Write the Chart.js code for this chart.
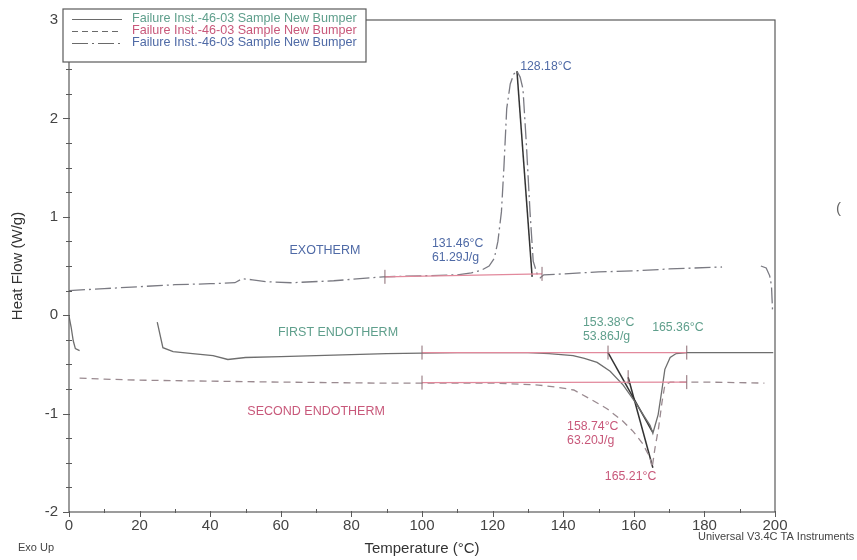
<!DOCTYPE html>
<html>
<head>
<meta charset="utf-8">
<script src="https://cdn.jsdelivr.net/npm/chart.js@4.4.0/dist/chart.umd.min.js"></script>
<style>
  body{margin:0;background:#fff;}
  canvas{display:block;}
</style>
</head>
<body>
<canvas id="dscChart" width="857" height="560"></canvas>
<script>
// first endotherm (solid line) - null splits the start-up blip from the run
const endo1Temp = [0, 0.6, 1.2, 1.8, 3, null, 25, 26.6, 29.5, 35, 40.8, 45, 50, 60, 70, 80, 90, 100, 110, 120, 130, 136, 142.8, 146, 149.6, 153.3, 157, 160.9, 163, 164.6, 165.4, 166.9, 168, 168.8, 170.3, 172, 175, 185, 199.5];
const endo1Flow = [-0.01, -0.12, -0.26, -0.34, -0.36, null, -0.07, -0.33, -0.37, -0.39, -0.41, -0.45, -0.43, -0.42, -0.41, -0.40, -0.39, -0.385, -0.38, -0.38, -0.38, -0.39, -0.41, -0.44, -0.48, -0.57, -0.71, -0.91, -1.03, -1.12, -1.2, -1.01, -0.75, -0.55, -0.43, -0.39, -0.38, -0.38, -0.38];

// second endotherm (dashed line)
const endo2Temp = [3, 10, 20, 40, 60, 87, 100, 120, 133, 138, 143, 147.6, 152.4, 157, 159.8, 162.6, 164.6, 165.2, 166, 167, 168, 168.8, 170.3, 180, 190, 197];
const endo2Flow = [-0.64, -0.65, -0.66, -0.67, -0.68, -0.69, -0.69, -0.69, -0.71, -0.73, -0.76, -0.85, -0.95, -1.08, -1.18, -1.31, -1.45, -1.55, -1.35, -1.15, -0.88, -0.71, -0.68, -0.68, -0.685, -0.69];

// exotherm (dash-dot line)
const exoTemp = [0, 10, 20, 30, 40, 47, 49, 52, 56, 63, 75, 89, 100, 110, 114, 117, 119, 120.5, 121.5, 122.5, 123.2, 124, 125, 126, 126.9, 127.8, 128.6, 129.6, 130.6, 131.5, 132.6, 133.5, 134.5, 140, 150, 160, 170, 185, null, 196, 197.5, 198.5, 199, 199.3];
const exoFlow = [0.25, 0.27, 0.29, 0.31, 0.32, 0.33, 0.37, 0.36, 0.34, 0.33, 0.35, 0.39, 0.40, 0.41, 0.43, 0.46, 0.5, 0.58, 0.75, 1.05, 1.5, 2.1, 2.35, 2.45, 2.48, 2.42, 2.3, 1.72, 1.05, 0.55, 0.42, 0.38, 0.41, 0.42, 0.44, 0.45, 0.47, 0.49, null, 0.50, 0.48, 0.40, 0.30, 0.05];

// integration baselines and onset tangents
const exoBaseTemp = [89.5, 134];
const exoBaseFlow = [0.39, 0.42];
const endo1BaseTemp = [100, 175];
const endo1BaseFlow = [-0.38, -0.38];
const endo2BaseTemp = [100, 175];
const endo2BaseFlow = [-0.685, -0.68];
const exoTangentTemp = [126.9, 131.2];
const exoTangentFlow = [2.48, 0.39];
const endo1TangentTemp = [152.7, 165.2];
const endo1TangentFlow = [-0.38, -1.18];
const endo2TangentTemp = [158.4, 165.4];
const endo2TangentFlow = [-0.63, -1.55];

const legendLabels = ['Failure Inst.-46-03 Sample New Bumper', 'Failure Inst.-46-03 Sample New Bumper', 'Failure Inst.-46-03 Sample New Bumper'];

const tealText = '#5f9f8c';
const redText = '#c8587a';
const blueText = '#4f6aa6';
const baseRed = '#e2899c';

function pts(xs, ys) {
  return xs.map((x, i) => (x === null ? {x: NaN, y: null} : {x: x, y: ys[i]}));
}

function lineSet(xs, ys, color, width, dash) {
  return {
    data: pts(xs, ys),
    borderColor: color,
    borderWidth: width,
    borderDash: dash || [],
    pointRadius: 0,
    fill: false,
    tension: 0,
    spanGaps: false
  };
}

const annotations = [
  {t: 127.8, v: 2.53, text: '128.18°C', color: blueText, align: 'left'},
  {t: 102.8, v: 0.73, text: '131.46°C', color: blueText, align: 'left'},
  {t: 102.8, v: 0.59, text: '61.29J/g', color: blueText, align: 'left'},
  {t: 72.5, v: 0.66, text: 'EXOTHERM', color: blueText, align: 'center', big: true},
  {t: 76.2, v: -0.18, text: 'FIRST ENDOTHERM', color: tealText, align: 'center', big: true},
  {t: 70, v: -0.98, text: 'SECOND ENDOTHERM', color: redText, align: 'center', big: true},
  {t: 145.6, v: -0.08, text: '153.38°C', color: tealText, align: 'left'},
  {t: 145.6, v: -0.22, text: '53.86J/g', color: tealText, align: 'left'},
  {t: 165.2, v: -0.13, text: '165.36°C', color: tealText, align: 'left'},
  {t: 141.1, v: -1.13, text: '158.74°C', color: redText, align: 'left'},
  {t: 141.1, v: -1.27, text: '63.20J/g', color: redText, align: 'left'},
  {t: 151.8, v: -1.64, text: '165.21°C', color: redText, align: 'left'}
];

const dscDecor = {
  id: 'dscDecor',
  afterDatasetsDraw(chart) {
    const ctx = chart.ctx;
    const xs = chart.scales.x, ys = chart.scales.y;
    const a = chart.chartArea;
    ctx.save();

    // frame
    ctx.strokeStyle = '#5a5a5a';
    ctx.lineWidth = 1.2;
    ctx.strokeRect(a.left, a.top, a.right - a.left, a.bottom - a.top);

    // ticks
    ctx.lineWidth = 1;
    ctx.beginPath();
    for (let t = 0; t <= 200; t += 10) {
      const px = Math.round(xs.getPixelForValue(t)) + 0.5;
      if (t % 20 === 0) { ctx.moveTo(px, a.bottom - 1); ctx.lineTo(px, a.bottom + 5); }
      else { ctx.moveTo(px, a.bottom - 3); ctx.lineTo(px, a.bottom + 1); }
    }
    for (let v = -2; v <= 3; v += 0.25) {
      const py = Math.round(ys.getPixelForValue(v)) + 0.5;
      if (Number.isInteger(v)) { ctx.moveTo(a.left - 6, py); ctx.lineTo(a.left + 1, py); }
      else { ctx.moveTo(a.left - 3, py); ctx.lineTo(a.left + 3, py); }
    }
    ctx.stroke();

    // integration limit marks
    ctx.strokeStyle = '#8a6a72';
    const marks = [[exoBaseTemp[0], exoBaseFlow[0]], [exoBaseTemp[1], exoBaseFlow[1]],
      [endo1BaseTemp[0], endo1BaseFlow[0]], [endo1BaseTemp[1], endo1BaseFlow[1]],
      [endo2BaseTemp[0], endo2BaseFlow[0]], [endo2BaseTemp[1], endo2BaseFlow[1]],
      [endo1TangentTemp[0], endo1TangentFlow[0]], [endo2TangentTemp[0], endo2TangentFlow[0]]];
    ctx.beginPath();
    marks.forEach(m => {
      const px = xs.getPixelForValue(m[0]), py = ys.getPixelForValue(m[1]);
      ctx.moveTo(px, py - 7); ctx.lineTo(px, py + 7);
    });
    ctx.stroke();

    // annotation texts
    ctx.textBaseline = 'middle';
    annotations.forEach(n => {
      ctx.font = (n.big ? '12.5px' : '12.3px') + ' "Liberation Sans", Arial, sans-serif';
      ctx.fillStyle = n.color;
      ctx.textAlign = n.align;
      ctx.fillText(n.text, xs.getPixelForValue(n.t), ys.getPixelForValue(n.v));
    });

    // legend box
    ctx.fillStyle = '#fff';
    ctx.fillRect(63, 9, 303, 53);
    ctx.strokeStyle = '#5a5a5a';
    ctx.lineWidth = 1.2;
    ctx.strokeRect(63, 9, 303, 53);
    const rowY = [19, 31, 43];
    const rowDash = [[], [6, 4], [16, 4, 2, 4]];
    const rowCol = [tealText, redText, blueText];
    ctx.font = '12.6px "Liberation Sans", Arial, sans-serif';
    ctx.textAlign = 'left';
    legendLabels.forEach((lab, i) => {
      ctx.strokeStyle = '#6a6a6a';
      ctx.lineWidth = 1;
      ctx.setLineDash(rowDash[i]);
      ctx.beginPath();
      ctx.moveTo(72, rowY[i] + 0.5);
      ctx.lineTo(122, rowY[i] + 0.5);
      ctx.stroke();
      ctx.setLineDash([]);
      ctx.fillStyle = rowCol[i];
      ctx.fillText(lab, 132, rowY[i]);
    });

    // corner notes
    ctx.fillStyle = '#444';
    ctx.font = '11px "Liberation Sans", Arial, sans-serif';
    ctx.fillText('Exo Up', 18, 548);
    ctx.fillText('Universal V3.4C TA Instruments', 698, 537);
    ctx.fillStyle = '#666';
    ctx.font = '15px "Liberation Sans", Arial, sans-serif';
    ctx.fillText('(', 836, 209);
    ctx.restore();
  }
};

const ctx1 = document.getElementById('dscChart');

new Chart(ctx1, {
  type: 'line',
  data: {
    datasets: [
      lineSet(exoBaseTemp, exoBaseFlow, baseRed, 1.2),
      lineSet(endo1BaseTemp, endo1BaseFlow, baseRed, 1.2),
      lineSet(endo2BaseTemp, endo2BaseFlow, baseRed, 1.2),
      lineSet(endo1Temp, endo1Flow, '#6e6e6e', 1.3),
      lineSet(endo2Temp, endo2Flow, '#9a8a90', 1.3, [7, 5]),
      lineSet(exoTemp, exoFlow, '#7a7a82', 1.3, [16, 4, 2, 4]),
      lineSet(exoTangentTemp, exoTangentFlow, '#333', 1.5),
      lineSet(endo1TangentTemp, endo1TangentFlow, '#333', 1.5),
      lineSet(endo2TangentTemp, endo2TangentFlow, '#333', 1.5)
    ]
  },
  options: {
    responsive: false,
    animation: false,
    layout: {padding: {top: 12, right: 82, left: 0, bottom: 0}},
    plugins: {legend: {display: false}, tooltip: {enabled: false}},
    scales: {
      x: {
        type: 'linear',
        min: 0,
        max: 200,
        grid: {display: false, drawTicks: false},
        border: {display: false},
        ticks: {stepSize: 20, padding: 5, color: '#444', font: {family: '"Liberation Sans", Arial, sans-serif', size: 15}},
        title: {display: true, text: 'Temperature (°C)', color: '#333', padding: {top: 0, bottom: 2}, font: {family: '"Liberation Sans", Arial, sans-serif', size: 15}},
        afterFit(s) { s.height = 48; }
      },
      y: {
        min: -2,
        max: 3,
        grid: {display: false, drawTicks: false},
        border: {display: false},
        ticks: {stepSize: 1, padding: 11, color: '#444', font: {family: '"Liberation Sans", Arial, sans-serif', size: 15}},
        title: {display: true, text: 'Heat Flow (W/g)', color: '#333', padding: {top: 9, bottom: 0}, font: {family: '"Liberation Sans", Arial, sans-serif', size: 15}},
        afterFit(s) { s.width = 69; }
      }
    }
  },
  plugins: [dscDecor]
});
</script>
</body>
</html>
